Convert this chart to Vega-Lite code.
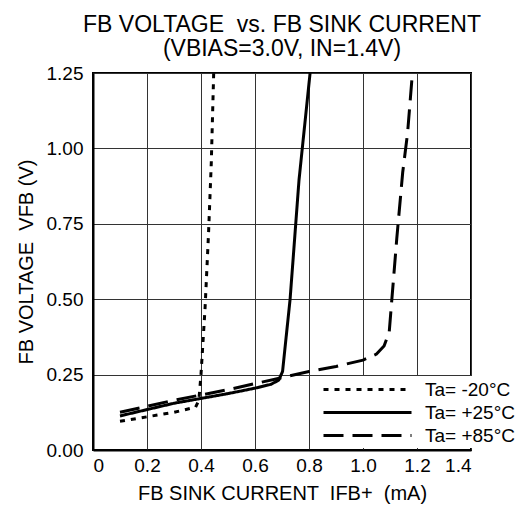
{
  "$schema": "https://vega.github.io/schema/vega-lite/v6.json",
  "width": 378,
  "height": 377,
  "autosize": {"type": "none"},
  "padding": {"left": 93, "top": 73, "right": 49, "bottom": 58},
  "background": "white",
  "title": {
    "text": ["FB VOLTAGE \u00a0vs. FB SINK CURRENT", "(VBIAS=3.0V, IN=1.4V)"],
    "font": "Liberation Sans",
    "fontSize": 23,
    "fontWeight": "normal",
    "color": "black",
    "lineHeight": 24,
    "anchor": "middle",
    "offset": 3
  },
  "config": {
    "view": {"stroke": "black", "strokeWidth": 2},
    "axis": {
      "labelFont": "Liberation Sans",
      "titleFont": "Liberation Sans",
      "labelFontSize": 19,
      "titleFontSize": 20,
      "titleFontWeight": "normal",
      "labelColor": "black",
      "titleColor": "black",
      "gridColor": "#333333",
      "gridOpacity": 1,
      "gridWidth": 1,
      "domainColor": "black",
      "domainWidth": 2,
      "ticks": false
    },
    "legend": {
      "orient": "none",
      "legendX": 227,
      "legendY": 303,
      "fillColor": "white",
      "padding": 2,
      "symbolType": "M-1,0H7.8",
      "symbolSize": 400,
      "symbolStrokeWidth": 3,
      "symbolStrokeColor": "black",
      "symbolFillColor": "transparent",
      "labelFont": "Liberation Sans",
      "labelFontSize": 19,
      "labelColor": "black",
      "labelOffset": 80,
      "rowPadding": 1
    }
  },
  "data": {
    "values": [
      {"x": 0.1, "y": 0.095, "s": "Ta= -20°C"},
      {"x": 0.2, "y": 0.11, "s": "Ta= -20°C"},
      {"x": 0.3, "y": 0.125, "s": "Ta= -20°C"},
      {"x": 0.38, "y": 0.142, "s": "Ta= -20°C"},
      {"x": 0.392, "y": 0.165, "s": "Ta= -20°C"},
      {"x": 0.4, "y": 0.25, "s": "Ta= -20°C"},
      {"x": 0.415, "y": 0.47, "s": "Ta= -20°C"},
      {"x": 0.428, "y": 0.72, "s": "Ta= -20°C"},
      {"x": 0.438, "y": 0.95, "s": "Ta= -20°C"},
      {"x": 0.447, "y": 1.25, "s": "Ta= -20°C"},
      {"x": 0.1, "y": 0.113, "s": "Ta= +25°C"},
      {"x": 0.3, "y": 0.155, "s": "Ta= +25°C"},
      {"x": 0.5, "y": 0.187, "s": "Ta= +25°C"},
      {"x": 0.6, "y": 0.205, "s": "Ta= +25°C"},
      {"x": 0.66, "y": 0.218, "s": "Ta= +25°C"},
      {"x": 0.688, "y": 0.232, "s": "Ta= +25°C"},
      {"x": 0.702, "y": 0.26, "s": "Ta= +25°C"},
      {"x": 0.73, "y": 0.5, "s": "Ta= +25°C"},
      {"x": 0.763, "y": 0.895, "s": "Ta= +25°C"},
      {"x": 0.804, "y": 1.25, "s": "Ta= +25°C"},
      {"x": 0.1, "y": 0.125, "s": "Ta= +85°C"},
      {"x": 0.3, "y": 0.165, "s": "Ta= +85°C"},
      {"x": 0.5, "y": 0.2, "s": "Ta= +85°C"},
      {"x": 0.69, "y": 0.238, "s": "Ta= +85°C"},
      {"x": 0.8, "y": 0.26, "s": "Ta= +85°C"},
      {"x": 0.9, "y": 0.277, "s": "Ta= +85°C"},
      {"x": 1.0, "y": 0.298, "s": "Ta= +85°C"},
      {"x": 1.05, "y": 0.318, "s": "Ta= +85°C"},
      {"x": 1.078, "y": 0.345, "s": "Ta= +85°C"},
      {"x": 1.097, "y": 0.39, "s": "Ta= +85°C"},
      {"x": 1.106, "y": 0.49, "s": "Ta= +85°C"},
      {"x": 1.125, "y": 0.7, "s": "Ta= +85°C"},
      {"x": 1.147, "y": 0.92, "s": "Ta= +85°C"},
      {"x": 1.165, "y": 1.05, "s": "Ta= +85°C"},
      {"x": 1.183, "y": 1.25, "s": "Ta= +85°C"}
    ]
  },
  "mark": {"type": "line", "color": "black", "strokeWidth": 3, "clip": true},
  "encoding": {
    "x": {
      "field": "x",
      "type": "quantitative",
      "scale": {"domain": [0, 1.4], "nice": false},
      "axis": {
        "values": [0, 0.2, 0.4, 0.6, 0.8, 1.0, 1.2, 1.4],
        "labelExpr": "datum.value == 0 ? '0' : format(datum.value, '.1f')",
        "title": "FB SINK CURRENT \u00a0IFB+ \u00a0(mA)",
        "labelPadding": 6,
        "titlePadding": 8
      }
    },
    "y": {
      "field": "y",
      "type": "quantitative",
      "scale": {"domain": [0, 1.25], "nice": false},
      "axis": {
        "values": [0, 0.25, 0.5, 0.75, 1.0, 1.25],
        "format": ".2f",
        "title": "FB VOLTAGE \u00a0VFB (V)",
        "labelPadding": 10,
        "titlePadding": 10
      }
    },
    "strokeDash": {
      "field": "s",
      "type": "nominal",
      "scale": {
        "domain": ["Ta= -20°C", "Ta= +25°C", "Ta= +85°C"],
        "range": [[5, 6], [1, 0], [20, 9]]
      },
      "legend": {"title": null}
    },
    "order": {"field": "y", "type": "quantitative"}
  }
}
